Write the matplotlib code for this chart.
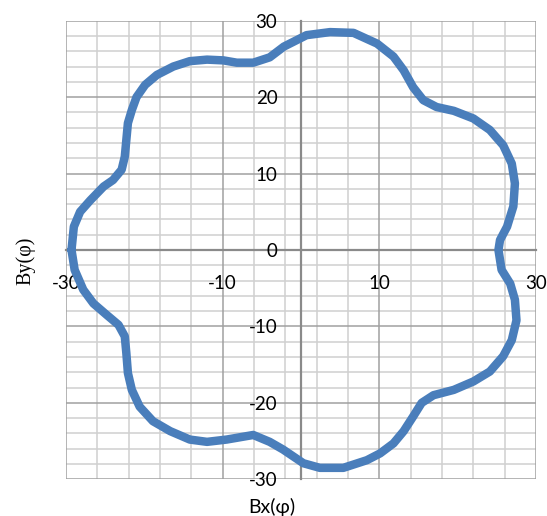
import numpy as np
import matplotlib.pyplot as plt
from matplotlib.ticker import FixedLocator

# =======================
# Datos (Bx, By), sentido horario desde la izquierda
# =======================
bx = [-29.3, -29.0, -28.2, -26.9, -25.2, -24.0, -22.9, -22.5, -22.3, -22.1,
      -21.6, -21.0, -19.9, -18.4, -16.3, -14.2, -12.0, -9.9, -8.2, -6.1,
      -4.0, -2.2, 0.7, 3.7, 6.7, 9.7, 11.8, 13.1, 14.3, 15.6,
      17.3, 19.5, 22.0, 24.1, 25.8, 26.9, 27.3, 27.1, 26.3, 25.4,
      25.2, 25.6, 26.7, 27.3, 27.5, 26.9, 25.8, 24.1, 22.0, 19.5,
      16.9, 15.4, 14.3, 13.1, 11.8, 10.1, 8.4, 5.4, 2.4, 0.3,
      -2.3, -4.0, -6.1, -7.8, -9.5, -12.0, -14.2, -16.7, -18.9, -20.6,
      -21.6, -22.1, -22.3, -22.5, -23.3, -24.8, -26.5, -27.8, -28.9, -29.3]
by = [0.0, 3.05, 5.0, 6.5, 8.3, 9.15, 10.5, 12.2, 14.4, 16.6,
      18.3, 20.0, 21.6, 22.9, 24.0, 24.7, 24.9, 24.8, 24.5, 24.5,
      25.2, 26.6, 28.1, 28.5, 28.4, 27.0, 25.3, 23.5, 21.3, 19.6,
      18.7, 18.2, 17.2, 15.7, 13.7, 11.3, 8.7, 5.7, 3.05, 1.3,
      0.0, -2.6, -4.4, -6.5, -9.2, -11.8, -13.9, -15.9, -17.2, -18.3,
      -19.0, -20.0, -21.8, -23.7, -25.3, -26.6, -27.5, -28.5, -28.5, -27.9,
      -26.1, -25.1, -24.2, -24.5, -24.8, -25.1, -24.8, -23.7, -22.4, -20.5,
      -18.3, -16.1, -13.5, -11.3, -9.8, -8.5, -7.0, -5.2, -2.6, 0.0]

x_ticks = [-30, -10, 10, 30]
y_ticks = [-30, -20, -10, 0, 10, 20, 30]

fig = plt.figure(figsize=(5.47, 5.16), dpi=100)
ax = fig.add_axes([0.1207, 0.0711, 0.8593, 0.8889])

ax.plot(bx, by, color="#4a7ebb", lw=6.1, solid_joinstyle="round",
        solid_capstyle="round", zorder=2)

ax.set_xlim(-30, 30)
ax.set_ylim(-30, 30)

# rejilla estilo Excel (mayor x cada 20 desde -30, menor cada 4; y mayor 10, menor 2)
for v in range(-30, 31, 4):
    if v in x_ticks:
        ax.axvline(v, color="#a0a0a0", lw=1.1, zorder=1.1)
    else:
        ax.axvline(v, color="#d0d0d0", lw=1.1, zorder=1)
for v in range(-30, 31, 2):
    if v in y_ticks:
        ax.axhline(v, color="#a0a0a0", lw=1.1, zorder=1.1)
    else:
        ax.axhline(v, color="#d0d0d0", lw=1.1, zorder=1)

ax.xaxis.set_major_locator(FixedLocator(x_ticks))
ax.yaxis.set_major_locator(FixedLocator(y_ticks))

# ejes cruzando en cero
for s in ["top", "right"]:
    ax.spines[s].set_visible(False)
for s in ["left", "bottom"]:
    ax.spines[s].set_position("zero")
    ax.spines[s].set_color("#8a8a8a")
    ax.spines[s].set_linewidth(1.6)
    ax.spines[s].set_zorder(1.5)

ax.tick_params(which="both", length=0)
ax.tick_params(axis="x", pad=18)
ax.tick_params(axis="y", pad=17)
ax.set_xticklabels([str(v) for v in x_ticks], fontsize=13.5, fontfamily="Lato")
ax.set_yticklabels([str(v) for v in y_ticks], fontsize=13.5, fontfamily="Lato")
for lab in ax.get_xticklabels() + ax.get_yticklabels():
    lab.set_clip_on(False)

fig.text(272 / 547, 1 - 507 / 516, "Bx(φ)", ha="center", va="center",
         fontsize=14, fontfamily="Lato")
fig.text(26 / 547, 1 - 261 / 516, "By(φ)", ha="center", va="center",
         rotation=90, fontsize=14.5, fontfamily="Liberation Serif")

fig.savefig("out.png", dpi=100)
